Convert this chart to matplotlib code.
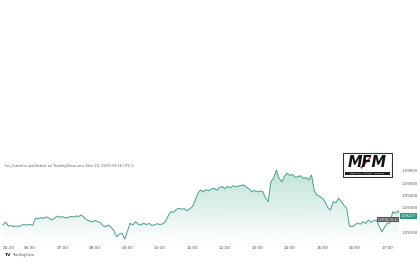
import numpy as np
import pandas as pd
import matplotlib
matplotlib.use("Agg")
import matplotlib.pyplot as plt
import matplotlib.transforms as mtransforms
from matplotlib.patches import Rectangle

# EUR/USD, 5 minute closes
start_hour = 5 + 10 / 60  # 05:10
prices = [
    1.09159, 1.09184, 1.09150, 1.09155, 1.09146, 1.09152, 1.09148, 1.09160, 1.09163, 1.09158,
    1.09165, 1.09156, 1.09214, 1.09209, 1.09220, 1.09212, 1.09225, 1.09216, 1.09200, 1.09213,
    1.09232, 1.09222, 1.09228, 1.09217, 1.09219, 1.09230, 1.09224, 1.09233, 1.09229, 1.09241,
    1.09221, 1.09200, 1.09192, 1.09184, 1.09196, 1.09188, 1.09178, 1.09152, 1.09146, 1.09158,
    1.09140, 1.09112, 1.09064, 1.09085, 1.09092, 1.09046, 1.09110, 1.09173, 1.09160, 1.09186,
    1.09166, 1.09159, 1.09175, 1.09162, 1.09173, 1.09155, 1.09161, 1.09170, 1.09163, 1.09168,
    1.09186, 1.09230, 1.09267, 1.09262, 1.09285, 1.09295, 1.09288, 1.09292, 1.09276, 1.09290,
    1.09308, 1.09360, 1.09417, 1.09444, 1.09430, 1.09446, 1.09438, 1.09452, 1.09458, 1.09442,
    1.09465, 1.09471, 1.09455, 1.09474, 1.09462, 1.09479, 1.09470, 1.09476, 1.09481, 1.09485,
    1.09466, 1.09452, 1.09430, 1.09440, 1.09428, 1.09436, 1.09430, 1.09380, 1.09349, 1.09511,
    1.09540, 1.09607, 1.09540, 1.09511, 1.09555, 1.09580, 1.09562, 1.09571, 1.09548, 1.09552,
    1.09560, 1.09538, 1.09546, 1.09525, 1.09566, 1.09440, 1.09403, 1.09392, 1.09376, 1.09350,
    1.09300, 1.09281, 1.09349, 1.09340, 1.09376, 1.09352, 1.09318, 1.09295, 1.09150, 1.09146,
    1.09158, 1.09176, 1.09165, 1.09186, 1.09172, 1.09200, 1.09180, 1.09195, 1.09200, 1.09150,
    1.09105, 1.09140, 1.09173, 1.09175, 1.09267, 1.09255, 1.09273, 1.09227,
]
hours = start_hour + np.arange(len(prices)) * 5 / 60

# the 1.09200 label sits under the last-price tag, so it is not shown
y_ticks = [1.09100, 1.09300, 1.09400, 1.09500, 1.09600]
x_ticks = [5 + 20 / 60, 6, 7, 8, 9, 10, 11, 12, 13, 14, 15, 16, 17]
x_labels = ["05:20", "06:00", "07:00", "08:00", "09:00", "10:00", "11:00",
            "12:00", "13:00", "14:00", "15:00", "16:00", "17:00"]
last_price = prices[-1]

line_color = "#45a08b"
fill_rgb = np.array([0.20, 0.64, 0.52])

fig = plt.figure(figsize=(4.2, 2.8), dpi=100)
fig.patch.set_facecolor("white")
ax = fig.add_axes([2 / 420, 1 - 243 / 280, 397 / 420, 78 / 280])
ax.set_xlim(5.138, 17.36)
ax.set_ylim(1.09013, 1.09647)

# gradient area under the line
poly = ax.fill_between(hours, prices, 1.09013, facecolor="none", edgecolor="none")
grad = np.zeros((256, 1, 4))
grad[:, 0, :3] = fill_rgb
grad[:, 0, 3] = np.linspace(0.0, 0.32, 256)
img = ax.imshow(grad, aspect="auto", origin="lower",
                extent=[hours[0], hours[-1], 1.09013, max(prices)], zorder=1)
img.set_clip_path(poly.get_paths()[0], transform=ax.transData)
ax.plot(hours, prices, color=line_color, lw=0.7, zorder=2)

for s in ax.spines.values():
    s.set_visible(False)
ax.set_xticks(x_ticks)
ax.set_xticklabels(x_labels, fontsize=3, color="#555555")
ax.tick_params(axis="x", length=0, pad=2)
ax.yaxis.tick_right()
ax.set_yticks(y_ticks)
ax.set_yticklabels([f"{v:.5f}" for v in y_ticks], fontsize=2.8, color="#555555")
ax.tick_params(axis="y", length=0, pad=2)

# last price tags
trans = mtransforms.blended_transform_factory(ax.transAxes, ax.transData)
ax.text(1.005, last_price + 0.00005, f"{last_price:.5f}", transform=trans, fontsize=2.6,
        color="white", ha="left", va="center", clip_on=False, zorder=5,
        bbox=dict(boxstyle="square,pad=0.3", fc="#2f9a80", ec="none"))
ax.text(0.997, last_price - 0.00024, "EURUSD 04:43", transform=trans, fontsize=2.0,
        color="white", ha="right", va="center", clip_on=False, zorder=5,
        bbox=dict(boxstyle="square,pad=0.3", fc="#555555", ec="none"))

# header and footer texts
fig.text(5 / 420, 1 - 166 / 280, "fxs_forexlive published on TradingView.com, Nov 20, 2023 09:16 UTC-5",
         fontsize=2.6, color="#666666", va="center")
fig.text(5 / 420, 1 - 255 / 280, "TV", fontsize=3.2, weight="bold", color="#222222", va="center")
fig.text(12 / 420, 1 - 255 / 280, "TradingView", fontsize=2.6, color="#555555", va="center")

# MFM logo
lax = fig.add_axes([342 / 420, 1 - 178 / 280, 51 / 420, 26 / 280])
lax.set_xlim(0, 1)
lax.set_ylim(0, 1)
lax.axis("off")
lax.add_patch(Rectangle((0.02, 0.03), 0.96, 0.94, fc="white", ec="#333333", lw=0.8))
lax.text(0.5, 0.6, "MFM", fontsize=10.5, weight="bold", style="italic", color="#111111",
         ha="center", va="center")
lax.plot([0.38, 0.55], [0.4, 0.78], color="#c0392b", lw=1.2)
lax.add_patch(Rectangle((0.06, 0.1), 0.88, 0.12, fc="#222222", ec="none"))
lax.text(0.5, 0.16, "MERCADOS · FINANZAS · MONEDAS", fontsize=1.4, color="white",
         ha="center", va="center")

fig.savefig("out.png", dpi=100, facecolor="white")
